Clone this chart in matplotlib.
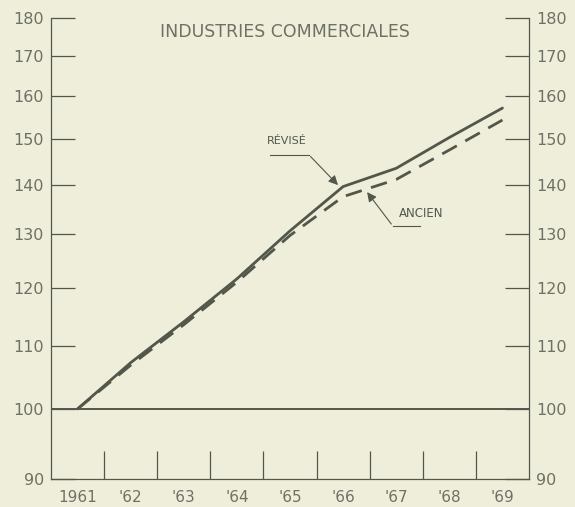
import numpy as np
import matplotlib
matplotlib.use('Agg')
import matplotlib.pyplot as plt
from matplotlib.ticker import FixedLocator, NullFormatter, NullLocator

# data (index, 1961 = 100, log scale)
years = [1961, 1962, 1963, 1964, 1965, 1966, 1967, 1968, 1969]
year_labels = ['1961', "'62", "'63", "'64", "'65", "'66", "'67", "'68", "'69"]
revise = [100, 107.2, 114.0, 121.6, 130.7, 139.7, 143.6, 150.4, 157.2]
ancien = [100, 106.8, 113.5, 121.0, 129.8, 137.6, 141.2, 147.6, 154.4]
y_ticks = [90, 100, 110, 120, 130, 140, 150, 160, 170, 180]

bg = '#eeeedb'
ink = '#52574a'
txt = '#6e7163'

fig = plt.figure(figsize=(5.75, 5.07), dpi=100, facecolor=bg)
ax = fig.add_axes([0.0887, 0.0552, 0.8313, 0.9093], facecolor=bg)

ax.plot(years, revise, color=ink, lw=2.0, solid_capstyle='round')
ax.plot(years, ancien, color=ink, lw=2.0, dashes=(6, 3.5))
ax.axhline(100, color=ink, lw=1.4)

ax.set_yscale('log')
ax.set_ylim(90, 180)
ax.set_xlim(1960.5, 1969.5)

ax.yaxis.set_major_locator(FixedLocator(y_ticks))
ax.yaxis.set_minor_locator(NullLocator())
ax.yaxis.set_minor_formatter(NullFormatter())
ax.set_yticklabels([str(v) for v in y_ticks])
ax.tick_params(axis='y', which='major', direction='in', length=17, width=0.9,
               color=ink, labelcolor=txt, labelsize=11.5, left=True, right=True,
               labelleft=True, labelright=True, pad=5)

# year boundaries as ticks, labels at centres
ax.xaxis.set_major_locator(FixedLocator([y + 0.5 for y in years[:-1]]))
ax.xaxis.set_major_formatter(NullFormatter())
ax.xaxis.set_minor_locator(FixedLocator(years))
ax.set_xticklabels(year_labels, minor=True)
ax.tick_params(axis='x', which='major', direction='in', length=20, width=0.9, color=ink)
ax.tick_params(axis='x', which='minor', length=0, labelcolor=txt, labelsize=11, pad=8)

for s in ['left', 'right', 'bottom']:
    ax.spines[s].set_color(ink)
    ax.spines[s].set_linewidth(0.9)
ax.spines['top'].set_visible(False)

ax.text(0.49, 0.99, 'INDUSTRIES COMMERCIALES', transform=ax.transAxes,
        ha='center', va='top', fontsize=12.5, color=txt)

# leader lines for the two series
ax.plot([1964.62, 1965.35], [146.6, 146.6], color=ink, lw=0.8)
ax.annotate('', xy=(1965.94, 139.6), xytext=(1965.35, 146.6),
            arrowprops=dict(arrowstyle='-|>', color=ink, lw=0.8, mutation_scale=14))
ax.text(1964.93, 149.7, 'RÉVISÉ', ha='center', va='center', fontsize=8, color=ink)

ax.plot([1966.94, 1967.45], [131.6, 131.6], color=ink, lw=0.8)
ax.annotate('', xy=(1966.42, 139.0), xytext=(1966.94, 131.6),
            arrowprops=dict(arrowstyle='-|>', color=ink, lw=0.8, mutation_scale=14))
ax.text(1967.47, 134.2, 'ANCIEN', ha='center', va='center', fontsize=8.5, color=ink)

fig.savefig('out.png', dpi=100, facecolor=bg)
